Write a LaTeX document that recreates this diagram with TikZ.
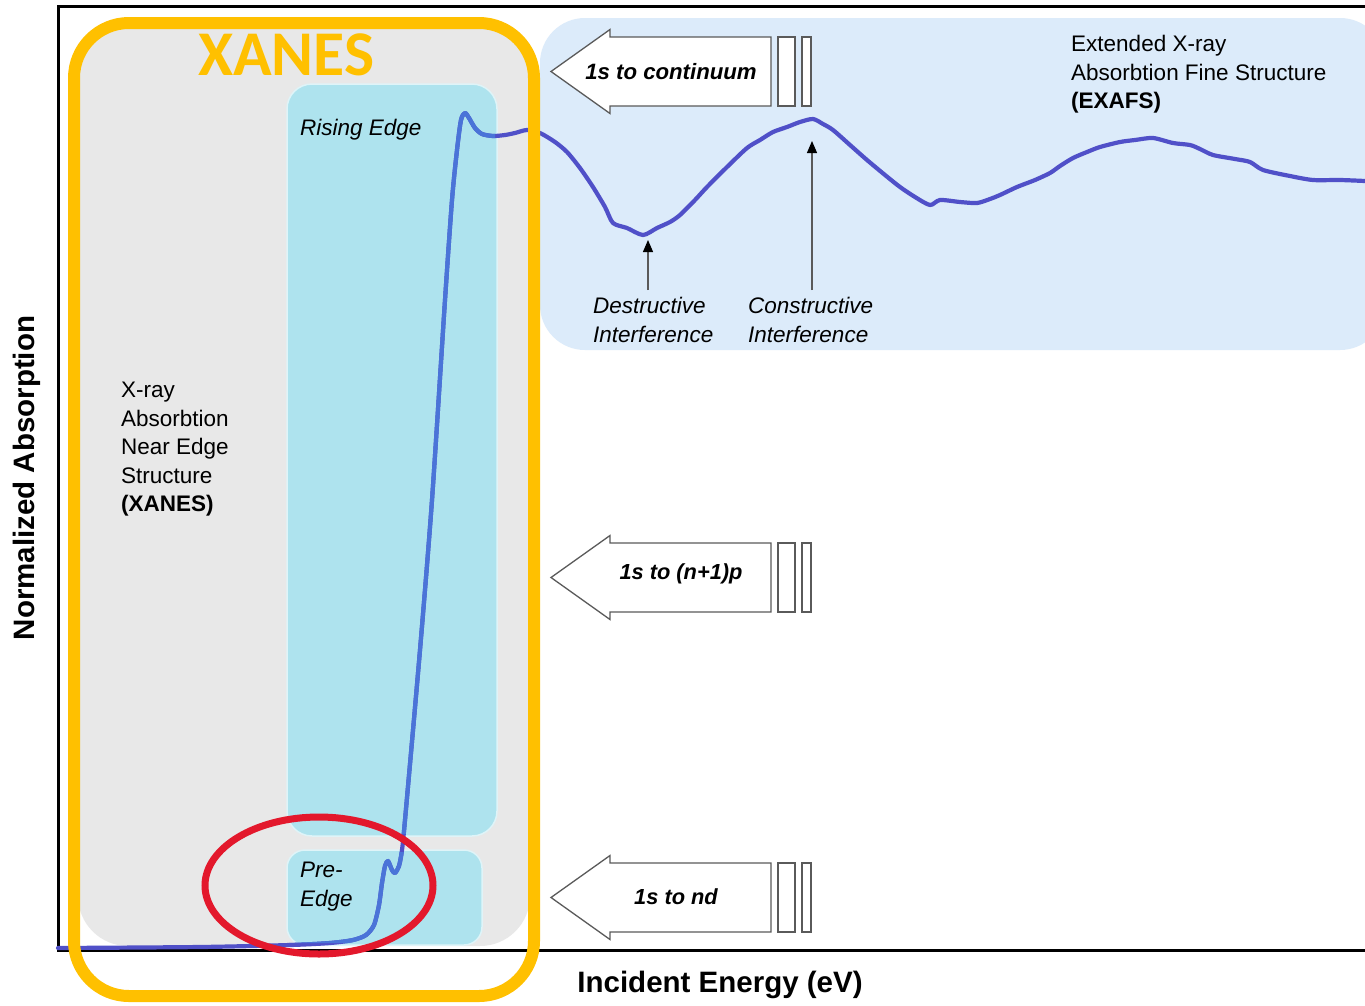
\documentclass[tikz,border=0pt]{standalone}
\usepackage{fontspec}
\setmainfont{Liberation Sans}
\newfontfamily\calib{Carlito}
\usetikzlibrary{arrows.meta}
\definecolor{xgray}{HTML}{E8E8E8}
\definecolor{xcyan}{HTML}{AEE3EE}
\definecolor{xblue}{HTML}{DCEBFA}
\definecolor{xyel}{HTML}{FFC000}
\definecolor{xred}{HTML}{E3182C}
\definecolor{xcurve}{HTML}{5050C8}
\definecolor{xcurveb}{HTML}{4A74D8}
\definecolor{xout}{HTML}{5A5A5A}
\newcommand\drawspectrum[1]{%
  \draw[#1] plot[smooth,tension=0.45] coordinates {
  (58,948) (200,947) (290,945) (330,943) (353,940) (366,935) (374,925) (379,905)
  (382,883) (385,866) (388,861) (392,870) (395,873) (399,866) (402,850) (405,820)
  (420,650) (432,500) (445,300) (452,200) (457,150) (461,120) (465,113) (469,118)
  (475,128) (482,134) (493,136) (505,135) (515,133) (527,130) (540,133) (555,142)
  (567,152) (580,168) (593,187) (605,207) (613,223) (627,228) (643,235) (657,228)
  (670,222) (680,215) (695,200) (707,187) (727,167) (747,148) (760,140) (773,132)
  (787,127) (800,122) (813,119) (823,124) (833,130) (850,145) (867,160) (885,175)
  (900,187) (915,197) (930,205) (940,200) (960,202) (977,203) (990,199) (1000,195)
  (1017,187) (1035,180) (1050,173) (1060,166) (1073,158) (1087,152) (1100,147)
  (1120,142) (1135,140) (1153,138) (1173,143) (1190,145) (1200,149) (1213,155)
  (1235,159) (1250,162) (1263,170) (1290,176) (1313,180) (1340,180) (1365,181)};}
\tikzset{
  lbl/.style={inner sep=0pt, align=left, font=\fontsize{22.5}{28.5}\selectfont},
  ilbl/.style={inner sep=0pt, align=left, font=\fontsize{22.5}{29}\selectfont\itshape},
  arrlbl/.style={inner sep=0pt, font=\fontsize{21.8}{26}\selectfont\bfseries\itshape},
  axlbl/.style={inner sep=0pt, font=\fontsize{29.5}{34}\selectfont\bfseries},
  blockout/.style={draw=xout, line width=1.3pt, fill=white, line join=miter},
  ptr/.style={draw=xout, line width=1.2pt, -{Triangle[length=12pt, width=10pt, color=black]}},
  spectrum/.style={line width=4.2pt, line cap=round, line join=round},
  cyanbox/.style={draw=white!60!xcyan, fill=xcyan, line width=1.5pt},
  blockarrow/.pic={
    \draw[blockout] (551,0) -- (610,-42) -- (610,-34.5) -- (771,-34.5) -- (771,34.5)
      -- (610,34.5) -- (610,42) -- cycle;
    \draw[blockout] (778,-34.5) rectangle (795,34.5);
    \draw[blockout] (802,-34.5) rectangle (811,34.5);
  }
}
\begin{document}
\begin{tikzpicture}[x=1pt,y=-1pt]
\clip (0,0) rectangle (1365,1005);
\fill[white] (0,0) rectangle (1365,1005);
% regions
\fill[xgray, rounded corners=50pt] (78,20) rectangle (530,946);
\fill[xblue, rounded corners=45pt] (540,18) rectangle (1385,350);
\draw[cyanbox, rounded corners=25pt] (287,84) rectangle (497,836);
\draw[cyanbox, rounded corners=18pt] (287,850) rectangle (482,945);
% frame
\draw[line width=3pt] (1365,6) -- (58,6) -- (58,950) -- (1365,950);
% spectrum
\drawspectrum{spectrum, xcurve}
\begin{scope}
  \clip (289,86) rectangle (495,834) (289,852) rectangle (480,943);
  \drawspectrum{spectrum, xcurveb}
\end{scope}
% highlights
\draw[xyel, line width=12pt, rounded corners=55pt] (74,23) rectangle (534,996);
\draw[xred, line width=7pt] (319,885.5) ellipse [x radius=114, y radius=68.5];
% block arrows
\pic at (0,71.5) {blockarrow};
\pic at (0,577.5) {blockarrow};
\pic at (0,897.5) {blockarrow};
\node[arrlbl, font=\fontsize{22.2}{26}\selectfont\bfseries\itshape] (cont) at (671,72) {1s to continuum};
\node[arrlbl] (np) at (681,574) {1s to (n+1)p};
\node[arrlbl] (nd) at (676,897) {1s to nd};
% texts
\node[anchor=west, inner sep=0pt, text=xyel, font=\calib\fontsize{63.7}{70}\selectfont\bfseries] (xanes) at (198,55) {XANES};
\node[lbl, anchor=north west] (xanesdesc) at (121,382) {X-ray\\Absorbtion\\Near Edge\\Structure\\\textbf{(XANES)}};
\node[lbl, anchor=north west] (exafs) at (1071,35) {Extended X-ray\\Absorbtion Fine Structure\\\textbf{(EXAFS)}};
\node[ilbl, anchor=west] (rising) at (300,130) {Rising Edge};
\node[ilbl, anchor=north west] (pre) at (300,862) {Pre-\\Edge};
\node[ilbl, anchor=north west] (destr) at (593,297) {Destructive\\Interference};
\node[ilbl, anchor=north west] (constr) at (748,297) {Constructive\\Interference};
% pointers
\coordinate (dtip) at (648,240);
\coordinate (dfoot) at (648,290);
\coordinate (ctip) at (812,141);
\coordinate (cfoot) at (812,290);
\draw[ptr] (dfoot) -- (dtip);
\draw[ptr] (cfoot) -- (ctip);
% axis labels
\node[axlbl, rotate=90] (ylab) at (27,478) {Normalized Absorption};
\node[axlbl] (xlab) at (720,985) {Incident Energy (eV)};
\end{tikzpicture}
\end{document}
